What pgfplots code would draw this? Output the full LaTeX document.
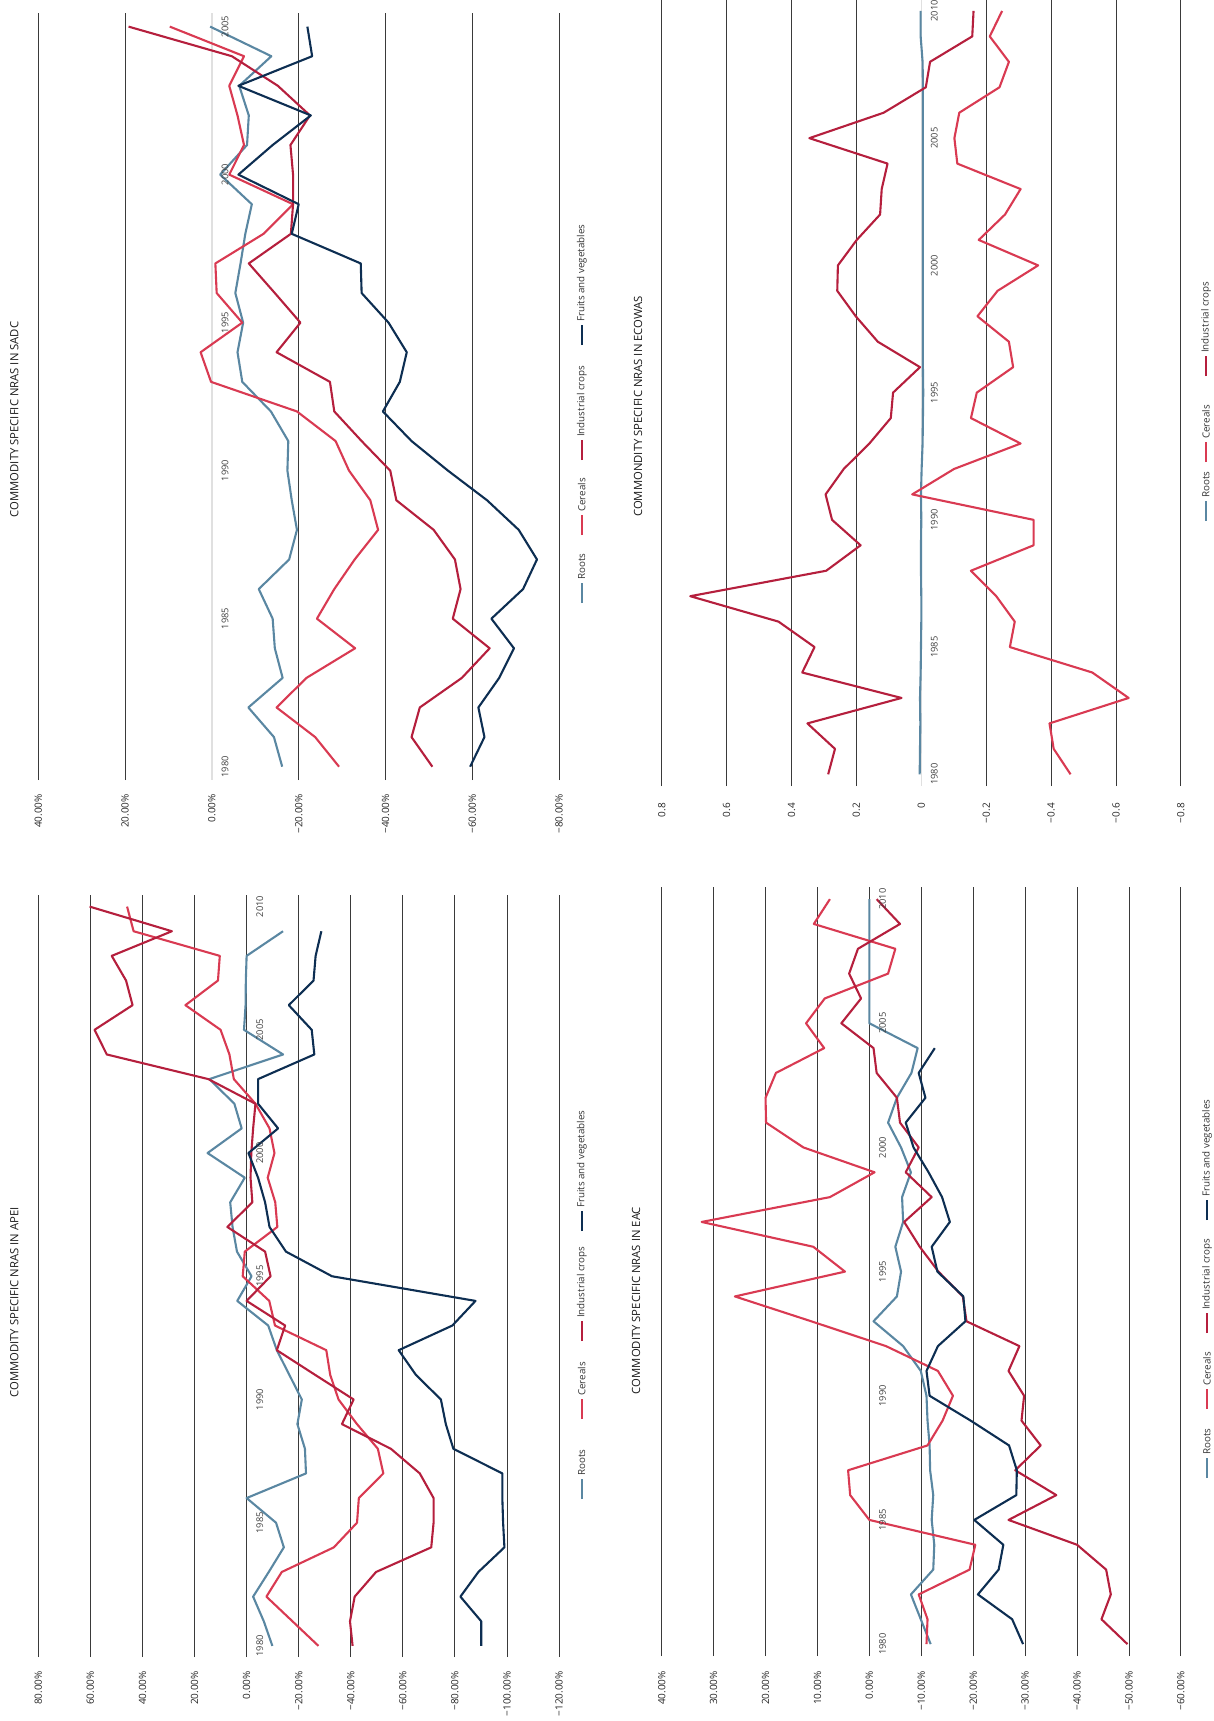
\documentclass[border=0pt]{standalone}
\usepackage{fontspec}
\setmainfont{Open Sans}
\usepackage{pgfplots}
\usepackage{pgfplotstable}
\pgfplotsset{compat=1.18}

\definecolor{roots}{HTML}{5A87A2}
\definecolor{cereals}{HTML}{D93A52}
\definecolor{indus}{HTML}{B51F3D}
\definecolor{fruits}{HTML}{0D2E52}
\definecolor{gridc}{HTML}{3A3A3A}

\pgfplotsset{
  nras/.style={
    scale only axis, anchor=north, x dir=reverse, enlargelimits=false,
    axis line style={draw=none}, major tick length=0pt, ytick=\empty,
    xmajorgrids, major grid style={gridc, line width=0.9pt},
    xticklabel style={rotate=90, anchor=east, inner sep=0pt, text=black!85,
      font=\fontsize{10}{12}\selectfont},
    xticklabel shift=14pt,
    every axis plot/.append style={line width=2.1pt, line join=round, no markers},
  },
  zero/.style={extra x ticks={0}, extra x tick labels={#1},
    extra x tick style={grid=major, major grid style={black!12, line width=1.4pt}}},
}

% year label next to the zero line
\newcommand\yr[1]{\node[rotate=90, anchor=north, inner sep=0pt, text=black!75,
  font=\fontsize{9.3}{10}\selectfont] at ([xshift=9.5pt]axis cs:0,#1) {#1};}
% legend entry: x, y centre (page px), colour, text
\newcommand\legitem[4]{%
  \draw[#3, line width=2.1pt] (#1pt,{-#2pt-10pt}) -- (#1pt,{-#2pt+10pt});
  \node[rotate=90, anchor=west, inner sep=0pt, text=black!80,
    font=\fontsize{9.8}{11}\selectfont] at (#1pt,{-#2pt+13pt}) {#4};}
\newcommand\ptitle[3]{\node[rotate=90, text=black!90, font=\fontsize{11.3}{13}\selectfont] at (#1pt,-#2pt) {#3};}

\pgfplotstableread{
year roots cereals indus fruits
1980 -16.2 -29.3 -50.8 -59.5
1981 -14.3 -23.8 -46.0 -62.8
1982 -8.4 -14.9 -47.9 -61.4
1983 -16.3 -21.8 -57.6 -66.2
1984 -14.5 -33.0 -64.0 -69.6
1985 -14.0 -24.2 -55.5 -64.4
1986 -10.8 -28.2 -57.3 -71.7
1987 -17.8 -32.9 -56.0 -74.9
1988 -19.6 -38.3 -51.1 -70.7
1989 -18.4 -36.5 -42.5 -63.4
1990 -17.4 -31.6 -41.1 -54.4
1991 -17.6 -28.5 -34.5 -46.0
1992 -13.6 -19.6 -28.2 -39.4
1993 -7.0 0.2 -27.2 -43.3
1994 -5.9 2.6 -14.9 -44.9
1995 -7.2 -7.0 -20.4 -40.7
1996 -5.4 -1.1 -14.5 -34.5
1997 -6.6 -0.8 -8.5 -34.3
1998 -7.7 -11.9 -18.2 -18.4
1999 -9.2 -18.7 -18.7 -20.0
2000 -1.9 -4.0 -18.7 -6.1
2001 -8.1 -7.4 -18.1 -14.0
2002 -8.5 -5.9 -22.6 -22.8
2003 -6.3 -4.0 -15.2 -6.1
2004 -13.7 -7.4 -4.6 -23.1
2005 0.4 9.7 19.2 -22.0
}\sadc

\pgfplotstableread{
year roots cereals indus fruits
1980 -9.9 -27.6 -40.7 -90.1
1981 -6.6 -17.6 -39.7 -90.1
1982 -2.5 -7.6 -41.5 -82.1
1983 -8.5 -13.5 -49.7 -89.0
1984 -14.3 -33.5 -70.9 -99.0
1985 -11.3 -42.4 -71.8 -98.5
1986 0.0 -43.1 -71.8 -98.2
1987 -22.8 -52.5 -66.5 -98.2
1988 -22.4 -50.4 -55.4 -79.4
1989 -19.5 -42.4 -36.6 -76.5
1990 -21.2 -35.3 -41.1 -74.6
1991 -16.4 -32.1 -26.3 -65.0
1992 -11.6 -30.6 -11.6 -58.4
1993 -8.3 -10.9 -14.8 -79.0
1994 3.6 -8.7 0.0 -87.9
1995 -1.9 1.5 -9.2 -32.8
1996 3.7 0.7 -7.1 -15.1
1997 5.4 -11.8 7.4 -8.8
1998 6.3 -11.0 -2.2 -7.1
1999 0.7 -8.1 -1.5 -4.4
2000 15.0 -10.7 -1.8 -0.7
2001 1.9 -8.8 -2.5 -12.1
2002 4.7 -3.4 -3.4 -4.4
2003 14.3 4.9 14.7 -4.4
2004 -14.0 6.6 53.7 -26.0
2005 1.0 10.0 58.4 -25.0
2006 0.4 23.5 43.8 -16.2
2007 0.3 11.0 46.3 -25.7
2008 0.0 10.3 51.8 -26.5
2009 -14.0 43.4 28.7 -28.7
2010 nan 45.9 60.3 nan
}\apei

\pgfplotstableread{
year roots cereals indus
1980 0.005 -0.460 0.287
1981 0.004 -0.408 0.266
1982 0.003 -0.395 0.351
1983 0.004 -0.639 0.061
1984 0.002 -0.527 0.367
1985 0.001 -0.273 0.329
1986 0.000 -0.288 0.440
1987 0.000 -0.231 0.712
1988 0.001 -0.153 0.293
1989 0.001 -0.346 0.187
1990 0.000 -0.346 0.275
1991 0.001 0.028 0.295
1992 -0.001 -0.101 0.239
1993 -0.004 -0.306 0.160
1994 -0.005 -0.153 0.094
1995 -0.006 -0.171 0.087
1996 -0.005 -0.283 0.004
1997 -0.005 -0.270 0.134
1998 -0.005 -0.173 0.202
1999 -0.005 -0.235 0.259
2000 -0.005 -0.360 0.257
2001 -0.005 -0.177 0.199
2002 -0.005 -0.258 0.127
2003 -0.005 -0.306 0.122
2004 -0.005 -0.111 0.104
2005 -0.005 -0.102 0.345
2006 -0.005 -0.117 0.116
2007 -0.005 -0.241 -0.014
2008 -0.004 -0.270 -0.027
2009 0.002 -0.211 -0.157
2010 0.002 -0.249 -0.161
}\ecowas

\pgfplotstableread{
year roots cereals indus fruits
1980 -11.8 -11.0 -49.7 -29.6
1981 -9.9 -11.2 -44.7 -27.5
1982 -8.0 -9.5 -46.5 -20.9
1983 -12.3 -19.3 -45.6 -24.9
1984 -12.5 -20.4 -40.0 -25.8
1985 -12.0 0.0 -26.8 -20.2
1986 -12.3 3.7 -36.0 -28.3
1987 -11.7 4.1 -28.1 -28.4
1988 -11.6 -11.2 -33.0 -26.9
1989 -11.2 -14.1 -29.3 -19.5
1990 -11.0 -16.1 -29.8 -11.6
1991 -9.9 -13.2 -26.8 -11.0
1992 -6.5 -3.2 -28.9 -13.2
1993 -0.8 11.2 -18.7 -18.5
1994 -5.3 25.9 -18.0 -18.1
1995 -6.1 4.7 -13.3 -13.1
1996 -5.0 10.8 -9.7 -12.0
1997 -6.5 32.3 -6.7 -15.5
1998 -6.3 7.6 -12.0 -14.0
1999 -8.0 -1.0 -7.0 -11.4
2000 -6.1 12.7 -9.5 -8.5
2001 -3.6 19.9 -5.9 -7.0
2002 -5.3 20.0 -5.3 -10.8
2003 -8.1 18.0 -1.4 -9.5
2004 -9.3 8.7 -0.8 -12.6
2005 0.0 12.2 5.4 nan
2006 0.0 8.6 1.6 nan
2007 0.0 -3.6 3.9 nan
2008 0.0 -5.0 2.2 nan
2009 0.0 10.7 -5.9 nan
2010 0.0 7.6 -1.4 nan
}\eac

\begin{document}
\begin{tikzpicture}
\path[use as bounding box] (0pt,0pt) rectangle (1214pt,-1721pt);

% ---------------- SADC (top left)
\begin{axis}[nras, zero={0.00\%}, at={(298.7pt,-12.7pt)}, width=520.8pt, height=767.3pt,
  xmin=-80, xmax=40, ymin=1979.55, ymax=2005.47,
  xtick={-80,-60,-40,-20,20,40},
  xticklabels={−80.00\%,−60.00\%,−40.00\%,−20.00\%,20.00\%,40.00\%}]
\addplot[roots] table[x=roots,y=year]{\sadc};
\addplot[cereals] table[x=cereals,y=year]{\sadc};
\addplot[indus] table[x=indus,y=year]{\sadc};
\addplot[fruits] table[x=fruits,y=year]{\sadc};
\yr{1980}\yr{1985}\yr{1990}\yr{1995}\yr{2000}\yr{2005}
\end{axis}
\ptitle{14.3}{419.5}{COMMODITY SPECIFIC NRAS IN SADC}
\legitem{581.7}{593}{roots}{Roots}
\legitem{581.7}{525}{cereals}{Cereals}
\legitem{581.7}{450}{indus}{Industrial crops}
\legitem{581.7}{335}{fruits}{Fruits and vegetables}

% ---------------- APEI (bottom left)
\begin{axis}[nras, at={(298.7pt,-895pt)}, width=520.8pt, height=762pt,
  xmin=-120, xmax=80, ymin=1979.55, ymax=2010.47,
  xtick={-120,-100,-80,-60,-40,-20,0,20,40,60,80},
  xticklabels={−120.00\%,−100.00\%,−80.00\%,−60.00\%,−40.00\%,−20.00\%,0.00\%,20.00\%,40.00\%,60.00\%,80.00\%}]
\addplot[roots] table[x=roots,y=year]{\apei};
\addplot[cereals] table[x=cereals,y=year]{\apei};
\addplot[indus] table[x=indus,y=year]{\apei};
\addplot[fruits] table[x=fruits,y=year]{\apei};
\yr{1980}\yr{1985}\yr{1990}\yr{1995}\yr{2000}\yr{2005}\yr{2010}
\end{axis}
\ptitle{14.3}{1302.5}{COMMODITY SPECIFIC NRAS IN APEI}
\legitem{581.7}{1489}{roots}{Roots}
\legitem{581.7}{1409}{cereals}{Cereals}
\legitem{581.7}{1331}{indus}{Industrial crops}
\legitem{581.7}{1221}{fruits}{Fruits and vegetables}

% ---------------- ECOWAS (top right)
\begin{axis}[nras, zero={0}, at={(921.3pt,0pt)}, width=519.2pt, height=786pt,
  xmin=-0.8, xmax=0.8, ymin=1979.54, ymax=2010.43,
  xtick={-0.8,-0.6,-0.4,-0.2,0.2,0.4,0.6,0.8},
  xticklabels={−0.8,−0.6,−0.4,−0.2,0.2,0.4,0.6,0.8},
  xticklabel shift=17pt]
\addplot[roots] table[x=roots,y=year]{\ecowas};
\addplot[cereals] table[x=cereals,y=year]{\ecowas};
\addplot[indus] table[x=indus,y=year]{\ecowas};
\yr{1980}\yr{1985}\yr{1990}\yr{1995}\yr{2000}\yr{2005}\yr{2010}
\end{axis}
\ptitle{638}{406.5}{COMMONDITY SPECIFIC NRAS IN ECOWAS}
\legitem{1206}{511}{roots}{Roots}
\legitem{1206}{452}{cereals}{Cereals}
\legitem{1206}{366}{indus}{Industrial crops}

% ---------------- EAC (bottom right)
\begin{axis}[nras, at={(921.3pt,-886.7pt)}, width=519.2pt, height=769.3pt,
  xmin=-60, xmax=40, ymin=1979.52, ymax=2010.5,
  xtick={-60,-50,-40,-30,-20,-10,0,10,20,30,40},
  xticklabels={−60.00\%,−50.00\%,−40.00\%,−30.00\%,−20.00\%,−10.00\%,0.00\%,10.00\%,20.00\%,30.00\%,40.00\%},
  xticklabel shift=15pt]
\addplot[roots] table[x=roots,y=year]{\eac};
\addplot[cereals] table[x=cereals,y=year]{\eac};
\addplot[indus] table[x=indus,y=year]{\eac};
\addplot[fruits] table[x=fruits,y=year]{\eac};
\yr{1980}\yr{1985}\yr{1990}\yr{1995}\yr{2000}\yr{2005}\yr{2010}
\end{axis}
\ptitle{636}{1300.5}{COMMODITY SPECIFIC NRAS IN EAC}
\legitem{1207}{1468}{roots}{Roots}
\legitem{1207}{1399}{cereals}{Cereals}
\legitem{1207}{1323}{indus}{Industrial crops}
\legitem{1207}{1210}{fruits}{Fruits and vegetables}
\end{tikzpicture}
\end{document}
